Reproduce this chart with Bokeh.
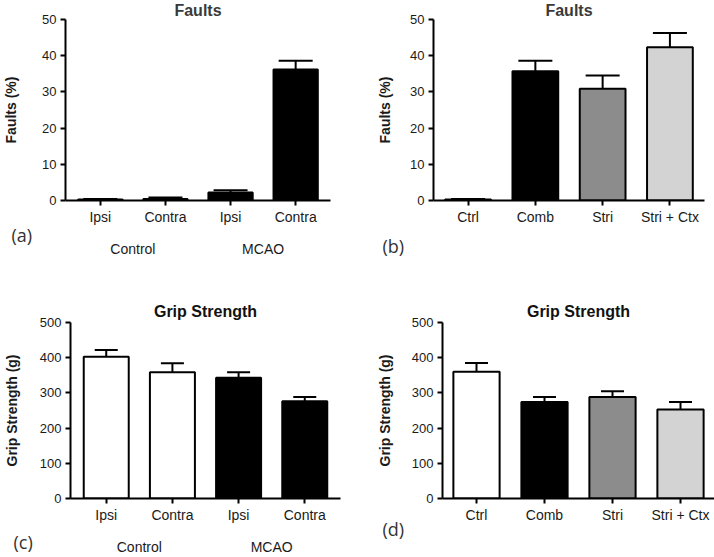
from bokeh.plotting import figure
from bokeh.models import (ColumnDataSource, FactorRange, Range1d, CategoricalAxis,
                          Whisker, TeeHead, Title)
from bokeh.layouts import column, row
from bokeh.embed import file_html
from bokeh.resources import INLINE

# ---------------- data ----------------
mcao_groups = ["Control", "Control", "MCAO", "MCAO"]
mcao_sides = ["Ipsi", "Contra", "Ipsi", "Contra"]
group_names = ["Control", "MCAO"]
lesion_groups = ["Ctrl", "Comb", "Stri", "Stri + Ctx"]

faults_mcao_mean = [0.3, 0.4, 2.2, 36.2]
faults_mcao_upper = [0.4, 0.8, 2.8, 38.6]
faults_lesion_mean = [0.3, 35.7, 30.9, 42.3]
faults_lesion_upper = [0.4, 38.6, 34.5, 46.3]
grip_mcao_mean = [403, 359, 343, 276]
grip_mcao_upper = [422, 384, 359, 288]
grip_lesion_mean = [360, 274, 288, 253]
grip_lesion_upper = [385, 288, 305, 274]

mcao_faults_colors = ["#000000", "#000000", "#000000", "#000000"]
mcao_grip_colors = ["#ffffff", "#ffffff", "#000000", "#000000"]
lesion_colors = ["#ffffff", "#000000", "#8c8c8c", "#d3d3d3"]

faults_ticks = [0, 10, 20, 30, 40, 50]
grip_ticks = [0, 100, 200, 300, 400, 500]

FONT = "Liberation Sans"
TXT = "#1a1a1a"


def make_panel(factors, means, uppers, colors, yticks, ymax, title, title_color,
               title_valign, title_standoff, ylabel, tag, width, height, borders,
               rpad, cap, label_standoff, tag_opts, groups=None, group_standoff=0):
    left, right, top, bottom = borders
    xr = FactorRange(factors=factors, range_padding=rpad, group_padding=0,
                     factor_padding=0)
    p = figure(width=width, height=height, x_range=xr, y_range=Range1d(0, ymax),
               output_backend="svg", toolbar_location=None,
               min_border_left=left, min_border_right=right,
               min_border_top=top, min_border_bottom=bottom,
               background_fill_color="white", border_fill_color="white")
    p.outline_line_color = None
    p.xgrid.visible = False
    p.ygrid.visible = False

    src = ColumnDataSource(dict(x=factors, top=means, upper=uppers, color=colors))
    w = Whisker(base="x", lower="top", upper="upper", source=src,
                line_color="black", line_width=2,
                upper_head=TeeHead(size=cap, line_color="black", line_width=2),
                lower_head=None)
    p.add_layout(w)
    p.vbar(x="x", top="top", bottom=0, width=0.68, source=src,
           fill_color="color", line_color="black", line_width=2)

    p.title.text = title
    p.title.align = "center"
    p.title.vertical_align = title_valign
    p.title.text_font = FONT
    p.title.text_font_size = "16px"
    p.title.text_font_style = "bold"
    p.title.text_color = title_color
    p.title.standoff = title_standoff

    ya = p.yaxis[0]
    ya.ticker = yticks
    ya.axis_line_width = 2
    ya.major_tick_line_width = 2
    ya.major_tick_out = 5
    ya.major_tick_in = 0
    ya.minor_tick_line_color = None
    ya.major_label_standoff = 4
    ya.major_label_text_font = FONT
    ya.major_label_text_font_size = "13px"
    ya.major_label_text_color = TXT
    ya.axis_label = ylabel
    ya.axis_label_text_font = FONT
    ya.axis_label_text_font_size = "14px"
    ya.axis_label_text_font_style = "bold"
    ya.axis_label_text_color = TXT
    ya.axis_label_standoff = label_standoff

    xa = p.xaxis[0]
    xa.axis_line_width = 2
    xa.major_tick_line_width = 2
    xa.major_tick_out = 5
    xa.major_tick_in = 0
    xa.major_label_standoff = 3
    xa.major_label_text_font = FONT
    xa.major_label_text_font_size = "14px"
    xa.major_label_text_color = TXT
    xa.group_text_font_size = "0px"
    xa.group_text_alpha = 0
    xa.separator_line_alpha = 0

    offset, valign, standoff = tag_opts
    tag_title = Title(text=tag, align="left", offset=offset, vertical_align=valign,
                      standoff=standoff, text_font="Open Sans", text_font_size="18px",
                      text_font_style="normal", text_color="#333333")
    p.add_layout(tag_title, "below")

    if groups is not None:
        p.extra_x_ranges = {"grp": FactorRange(factors=groups, range_padding=rpad)}
        ga = CategoricalAxis(x_range_name="grp")
        ga.axis_line_alpha = 0
        ga.major_tick_out = 0
        ga.major_tick_in = 0
        ga.major_tick_line_alpha = 0
        ga.major_label_standoff = group_standoff
        ga.major_label_text_font = FONT
        ga.major_label_text_font_size = "14px"
        ga.major_label_text_color = TXT
        p.add_layout(ga, "below")
    return p


mcao_factors = list(zip(mcao_groups, mcao_sides))

pa = make_panel(mcao_factors, faults_mcao_mean, faults_mcao_upper, mcao_faults_colors,
                faults_ticks, 50, "Faults", "#3a3a3a", "top", -3, "Faults (%)", "(a)",
                357, 280, (57, 27, 19, 78), 0.0175, 34, 20, (-54, "middle", -12),
                groups=group_names, group_standoff=-1)
pb = make_panel(lesion_groups, faults_lesion_mean, faults_lesion_upper, lesion_colors,
                faults_ticks, 50, "Faults", "#3a3a3a", "top", -3, "Faults (%)", "(b)",
                357, 280, (76, 10, 19, 80), 0.007, 34, 14, (-51, "top", 12))
pc = make_panel(mcao_factors, grip_mcao_mean, grip_mcao_upper, mcao_grip_colors,
                grip_ticks, 500, "Grip Strength", "#111111", "bottom", 6,
                "Grip Strength (g)", "(c)",
                357, 277, (60, 17, 41, 54), 0.02, 23, 17, (-57, "middle", 6),
                groups=group_names, group_standoff=-19)
pd = make_panel(lesion_groups, grip_lesion_mean, grip_lesion_upper, lesion_colors,
                grip_ticks, 500, "Grip Strength", "#111111", "bottom", 6,
                "Grip Strength (g)", "(d)",
                357, 277, (85, 0, 42, 55), 0.0, 23, 16, (-60, "top", -18))

layout = column(row(pa, pb), row(pc, pd))
open("out.html", "w").write(file_html(layout, INLINE))
